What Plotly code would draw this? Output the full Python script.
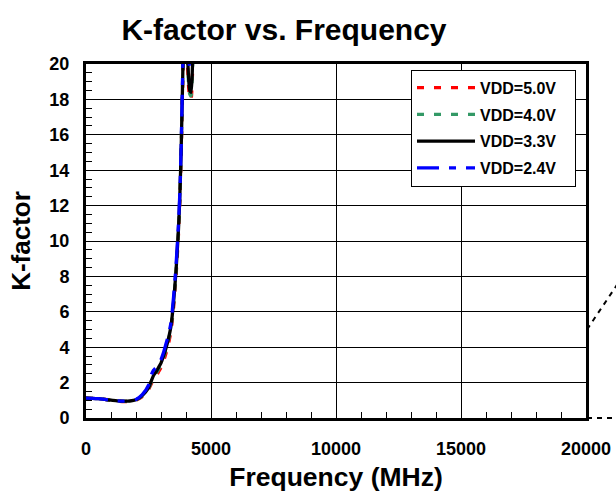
import plotly.graph_objects as go

# Frequency (MHz)
freq = [0, 250, 500, 750, 1000, 1250, 1500, 1750, 2000, 2250, 2500, 2600, 2700, 2800,
        2900, 3000, 3100, 3200, 3300, 3400, 3500, 3600, 3700, 3750, 3800, 3850, 3900,
        3950, 4000, 4050, 4100, 4150, 4200, 4250, 4300, 4350]

k_vdd50 = [1.12, 1.11, 1.09, 1.05, 1.01, 0.96, 0.93, 0.94, 1.00, 1.20, 1.60, 1.90, 2.15, 2.35,
           2.60, 2.85, 3.20, 3.65, 4.20, 4.90, 6.20, 8.00, 10.4, 12.1, 14.5, 17.7, 21.0,
           24.5, 22.5, 20.5, 18.8, 18.1, 18.0, 19.1, 21.5, 25.5]
k_vdd40 = [1.12, 1.11, 1.09, 1.05, 1.01, 0.97, 0.94, 0.95, 1.02, 1.24, 1.65, 1.98, 2.30, 2.50,
           2.75, 3.00, 3.40, 3.85, 4.40, 5.10, 6.40, 8.20, 10.6, 12.3, 14.7, 17.9, 21.3,
           24.8, 22.8, 20.8, 19.0, 18.3, 18.2, 19.3, 21.8, 25.8]
k_vdd33 = [1.12, 1.11, 1.09, 1.05, 1.01, 0.97, 0.95, 0.96, 1.03, 1.27, 1.70, 2.05, 2.40, 2.60,
           2.85, 3.10, 3.50, 3.95, 4.50, 5.20, 6.50, 8.30, 10.7, 12.4, 14.8, 18.0, 21.5,
           25.0, 23.0, 21.0, 19.3, 18.5, 18.4, 19.5, 22.0, 26.0]
k_vdd24 = [1.12, 1.11, 1.09, 1.05, 1.01, 0.97, 0.95, 0.97, 1.05, 1.32, 1.85, 2.40, 2.70, 2.85,
           3.05, 3.30, 3.70, 4.20, 4.70, 5.40, 6.80, 8.60, 11.0, 12.6, 15.0, 18.3, 22.0,
           26.0, 24.0, 22.0, 20.5, 19.8, 19.7, 20.5, 23.0, 27.0]

names = ["VDD=5.0V", "VDD=4.0V", "VDD=3.3V", "VDD=2.4V"]
series = [k_vdd50, k_vdd40, k_vdd33, k_vdd24]
colors = ["#ff0000", "#339966", "#000000", "#0000ff"]
dashes = ["7px,10px", "7px,10px", "solid", "22px,10px,7px,10px"]

x_ticks = [0, 5000, 10000, 15000, 20000]
y_ticks = [0, 2, 4, 6, 8, 10, 12, 14, 16, 18, 20]

FONT = "Liberation Sans, Arial, sans-serif"
PAD = "\u00a0\u00a0\u00a0"

fig = go.Figure()
for i, (nm, ys, c, d) in enumerate(zip(names, series, colors, dashes)):
    fig.add_trace(go.Scatter(
        x=freq, y=ys, mode="lines", name=nm + PAD, legendgroup=f"g{i}",
        line=dict(color=c, width=3.3, dash=d, shape="spline", smoothing=0.6),
    ))

fig.update_layout(
    width=616, height=499,
    margin=dict(l=86, r=30, t=64, b=81),
    paper_bgcolor="white", plot_bgcolor="white",
    font=dict(family=FONT, color="black"),
    title=dict(text="<b>K-factor vs. Frequency</b>", font=dict(size=30, family=FONT, color="black"),
               x=284 / 616, xanchor="center", xref="container",
               y=1 - 29 / 499, yanchor="middle", yref="container"),
    showlegend=True,
    legend=dict(x=0.65, y=0.984, xanchor="left", yanchor="top",
                bgcolor="white", bordercolor="black", borderwidth=1,
                font=dict(size=16, family=FONT, color="black", weight="bold"),
                tracegroupgap=3, itemwidth=58),
)

fig.update_xaxes(
    range=[0, 20000], tickvals=x_ticks, ticktext=[str(v) for v in x_ticks],
    showline=True, linecolor="black", linewidth=3, mirror=True,
    showgrid=True, gridcolor="black", gridwidth=1, zeroline=False,
    ticks="inside", ticklen=6, tickcolor="black", tickwidth=1,
    minor=dict(dtick=1000, ticks="inside", ticklen=6, tickcolor="black", showgrid=False),
    tickfont=dict(size=18, family=FONT, color="black", weight="bold"),
    ticklabelstandoff=12, automargin=False,
    title=dict(text="<b>Frequency (MHz)</b>", font=dict(size=26.5, family=FONT, color="black"), standoff=10),
)
fig.update_yaxes(
    range=[0, 20], tickvals=y_ticks, ticktext=[str(v) for v in y_ticks],
    showline=True, linecolor="black", linewidth=3, mirror=True,
    showgrid=True, gridcolor="black", gridwidth=1, zeroline=False,
    ticks="inside", ticklen=6, tickcolor="black", tickwidth=1,
    minor=dict(dtick=0.5, ticks="inside", ticklen=6, tickcolor="black", showgrid=False),
    tickfont=dict(size=18, family=FONT, color="black", weight="bold"),
    ticklabelstandoff=10, automargin=False,
    title=dict(text="<b>K-factor</b>", font=dict(size=26, family=FONT, color="black"), standoff=12),
)

# stray dashed connector lines drawn outside the plot frame on the right
fig.add_shape(type="line", xref="paper", yref="paper", x0=1.002, y0=0.0, x1=1.07, y1=0.0,
              line=dict(color="black", width=2, dash="5px,5px"), layer="above")
fig.add_shape(type="line", xref="paper", yref="paper", x0=1.002, y0=0.25, x1=1.062, y1=0.376,
              line=dict(color="black", width=2, dash="5px,5px"), layer="above")

fig.write_html("out.html", config={"displayModeBar": False},
               post_script="document.body.style.margin='0';")
